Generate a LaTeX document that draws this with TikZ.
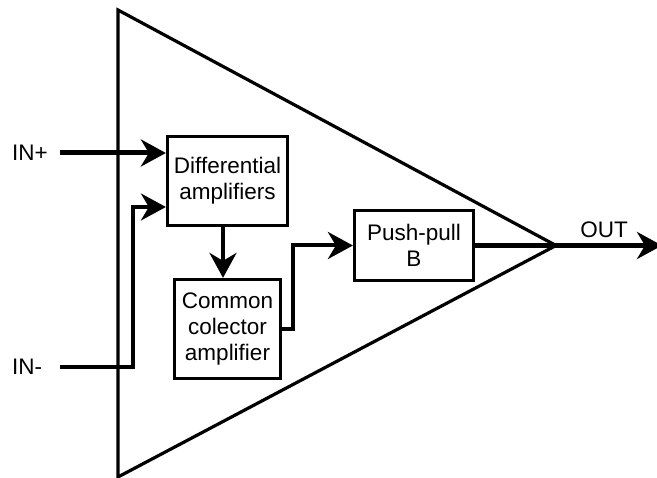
\documentclass[tikz,border=0pt]{standalone}
\usepackage{fontspec}
\setmainfont{Liberation Sans}
\usetikzlibrary{arrows.meta}
\begin{document}
\begin{tikzpicture}[x=1pt,y=-1pt,
  blk/.style={draw, line width=3.2pt, align=center, inner sep=0pt,
    font=\fontsize{22.5}{26}\selectfont},
  lbl/.style={font=\fontsize{22.5}{26}\selectfont, inner sep=0pt},
  tip/.style={-{Stealth[length=25pt,width=27pt,inset=8pt]}},
  wire/.style={line join=miter}]
\useasboundingbox (0,0) rectangle (657,478);
% amplifier body
\draw[line width=3.2pt, line join=miter] (118,10) -- (118,477) -- (556,245.5) -- cycle;
% stages
\node[blk, minimum width=120pt, minimum height=89pt] (diff) at (227.5,181) {Differential\\amplifiers};
\node[blk, minimum width=106pt, minimum height=99pt] (cc) at (227.5,329) {Common\\colector\\amplifier};
\node[blk, minimum width=119pt, minimum height=70pt] (pp) at (414,245.5) {Push-pull\\B};
% terminal labels
\node[lbl] (lin) at (30,153) {IN+};
\node[lbl] (lim) at (27,367) {IN-};
\node[lbl] (lout) at (604,230) {OUT};
% wiring points
\coordinate (inp) at (60,153);
\coordinate (inm) at (60,367);
\coordinate (inmk) at (133,207);
\coordinate (dcx) at (223,0);
\coordinate (ck) at (293,245.5);
\coordinate (outend) at (662,245.5);
% connections
\draw[tip, wire, line width=5pt] (inp) -- (inp -| diff.west);
\draw[tip, wire, line width=3.2pt] (inm) -| (inmk) -- (inmk -| diff.west);
\draw[tip, wire, line width=4pt] (diff.south -| dcx) -- (cc.north -| dcx);
\draw[tip, wire, line width=4pt] (cc.east) -| (ck) -- (pp.west);
\draw[tip, wire, line width=5pt] (pp.east) -- (outend);
\end{tikzpicture}
\end{document}
